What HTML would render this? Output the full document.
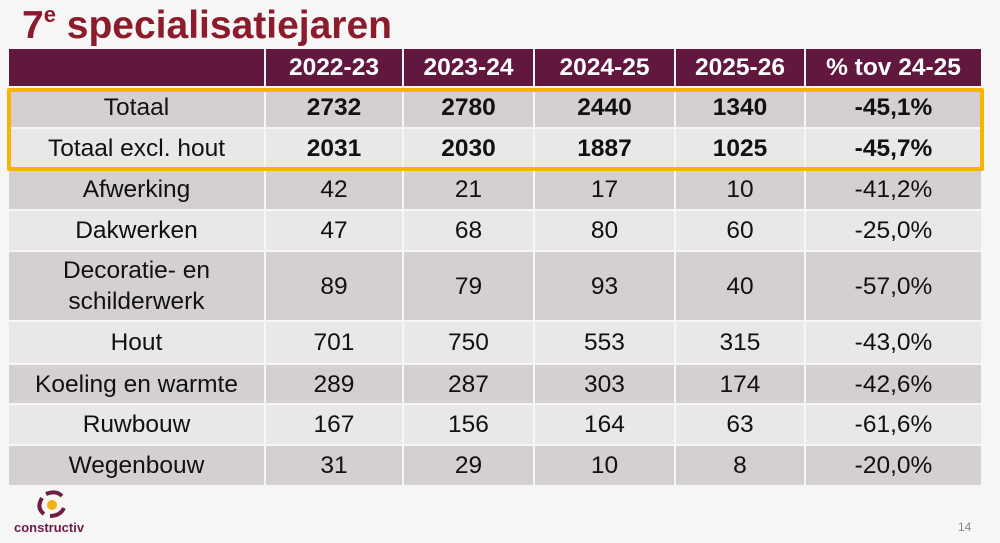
<!DOCTYPE html>
<html><head><meta charset="utf-8">
<style>
body{margin:0;width:1000px;height:543px;background:#f6f6f6;font-family:"Liberation Sans",sans-serif;position:relative;overflow:hidden}
.c{position:absolute;display:flex;align-items:center;justify-content:center;text-align:center;font-size:24.5px;color:#111;line-height:31px;box-sizing:border-box}
.h{background:#62173f;color:#fff;font-weight:bold}
.d{background:#d4cfd1}.l{background:#e9e7e8}
.b{font-weight:bold}
#title{position:absolute;left:22px;top:2px;font-size:39px;font-weight:bold;color:#8c1c2c;white-space:nowrap}
#hl{position:absolute;left:7px;top:88px;width:977px;height:83px;border:4px solid #f7b500;border-radius:2px;box-sizing:border-box}
</style></head><body>
<div id="title">7<sup style="font-size:22px;vertical-align:16px">e</sup> specialisatiejaren</div>
<div id="tbl"></div>
<div id="hl"></div>
<div style="position:absolute;left:14px;top:490px;width:90px;height:50px">
<svg width="40" height="30" style="position:absolute;left:18px;top:0" viewBox="0 0 40 30">
<path d="M14 4 Q24 0 30 6" stroke="#6b1f45" stroke-width="4" fill="none"/>
<path d="M10 8 Q4 18 12 24" stroke="#6b1f45" stroke-width="4" fill="none"/>
<path d="M18 26 Q28 26 32 18" stroke="#6b1f45" stroke-width="4" fill="none"/>
<circle cx="20" cy="15" r="5" fill="#f2b211"/></svg>
<div style="position:absolute;left:0;top:30px;font-size:13px;font-weight:bold;color:#6b1f45">constructiv</div></div>
<div style="position:absolute;left:958px;top:520px;font-size:12px;color:#888">14</div>
<script>
const headers=["","2022-23","2023-24","2024-25","2025-26","% tov 24-25"];
const labels=["Totaal","Totaal excl. hout","Afwerking","Dakwerken","Decoratie- en<br>schilderwerk","Hout","Koeling en warmte","Ruwbouw","Wegenbouw"];
const v2223=["2732","2031","42","47","89","701","289","167","31"];
const v2324=["2780","2030","21","68","79","750","287","156","29"];
const v2425=["2440","1887","17","80","93","553","303","164","10"];
const v2526=["1340","1025","10","60","40","315","174","63","8"];
const pct=["-45,1%","-45,7%","-41,2%","-25,0%","-57,0%","-43,0%","-42,6%","-61,6%","-20,0%"];
const colX=[9,266,404,535,676,806,983];
const rowY=[49,88,129,170,211,252,322,365,405,446,487];
const tbl=document.getElementById('tbl');
function cell(x0,x1,y0,y1,cls,html){
  const e=document.createElement('div');
  e.className='c '+cls;
  e.style.left=x0+'px';e.style.top=y0+'px';
  e.style.width=(x1-x0-2)+'px';e.style.height=(y1-y0-2)+'px';
  e.innerHTML=html;tbl.appendChild(e);return e;
}
for(let c=0;c<6;c++){
  const e=cell(colX[c],colX[c+1],rowY[0],rowY[1],'h',headers[c]);
  
  
}
const cols=[v2223,v2324,v2425,v2526,pct];
for(let r=0;r<labels.length;r++){
  const bg=r%2==0?'d':'l';
  const bold=r<2?' b':'';
  const e=cell(colX[0],colX[1],rowY[r+1],rowY[r+2],bg,labels[r]);
  
  
  for(let c=0;c<5;c++){
    const f=cell(colX[c+1],colX[c+2],rowY[r+1],rowY[r+2],bg+bold,cols[c][r]);
    
    
  }
}
</script>
</body></html>
